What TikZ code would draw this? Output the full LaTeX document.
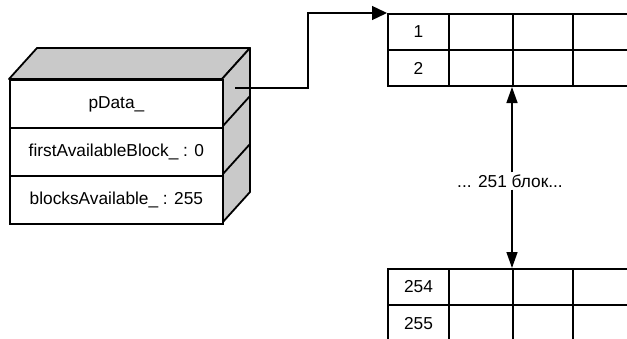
\documentclass[tikz,border=0pt]{standalone}
\usepackage{fontspec}
\setmainfont{Liberation Sans}
\usetikzlibrary{arrows.meta}
\begin{document}
\begin{tikzpicture}[x=1pt,y=-1pt,
  txt/.style={font=\fontsize{17.3}{19}\selectfont},
  cellbox/.style={draw=black,line width=2pt,inner sep=0pt,anchor=north west,txt},
  rowbox/.style={draw=black,line width=1.8pt,fill=white,inner sep=0pt,anchor=north west,
    minimum width=213pt,minimum height=48pt,txt},
  shade/.style={fill=gray!42,draw=black,line width=1.8pt,line join=round},
  link/.style={draw=black,line width=1.4pt,-{Triangle[length=15pt,width=14pt]}},
  spanarrow/.style={draw=black,line width=1.4pt,-{Triangle[length=16pt,width=11pt]}}]
\useasboundingbox (0,0) rectangle (627,338);
\clip (0,0) rectangle (627,338);
% 3D box: top and side faces
\path[shade] (9,79) -- (37,48) -- (250,48) -- (222,79) -- cycle;
\path[shade] (222,79) -- (250,48) -- (250,192) -- (222,223) -- cycle;
\draw[line width=1.8pt] (222,127) -- (250,96);
\draw[line width=1.8pt] (222,175) -- (250,144);
% front rows
\node[rowbox] (f1) at (9,79) {pData\_};
\node[rowbox] (f2) at (9,127) {firstAvailableBlock\_ : 0};
\node[rowbox] (f3) at (9,175) {blocksAvailable\_ : 255};
\coordinate (ptr) at (235,88);
% top table
\node[cellbox,minimum width=61pt,minimum height=36pt] (a11) at (387,13) {1};
\node[cellbox,minimum width=64pt,minimum height=36pt] (a12) at (448,13) {};
\node[cellbox,minimum width=60pt,minimum height=36pt] (a13) at (512,13) {};
\node[cellbox,minimum width=70pt,minimum height=36pt] (a14) at (572,13) {};
\node[cellbox,minimum width=61pt,minimum height=36pt] (a21) at (387,49) {2};
\node[cellbox,minimum width=64pt,minimum height=36pt] (a22) at (448,49) {};
\node[cellbox,minimum width=60pt,minimum height=36pt] (a23) at (512,49) {};
\node[cellbox,minimum width=70pt,minimum height=36pt] (a24) at (572,49) {};
% bottom table
\node[cellbox,minimum width=61pt,minimum height=36pt] (b11) at (387,268) {254};
\node[cellbox,minimum width=64pt,minimum height=36pt] (b12) at (448,268) {};
\node[cellbox,minimum width=60pt,minimum height=36pt] (b13) at (512,268) {};
\node[cellbox,minimum width=70pt,minimum height=36pt] (b14) at (572,268) {};
\node[cellbox,minimum width=61pt,minimum height=38pt] (b21) at (387,304) {255};
\node[cellbox,minimum width=64pt,minimum height=38pt] (b22) at (448,304) {};
\node[cellbox,minimum width=60pt,minimum height=38pt] (b23) at (512,304) {};
\node[cellbox,minimum width=70pt,minimum height=38pt] (b24) at (572,304) {};
% pointer
\draw[link] (ptr) -- (308,88) |- (a11.north west);
% range arrow
\node[txt,fill=white,inner sep=2pt] (lbl) at (510,181) {... 251 блок...};
\draw[spanarrow] (lbl.north -| a23.south west) -- (a23.south west);
\draw[spanarrow] (lbl.south -| b13.north west) -- (b13.north west);
\end{tikzpicture}
\end{document}
